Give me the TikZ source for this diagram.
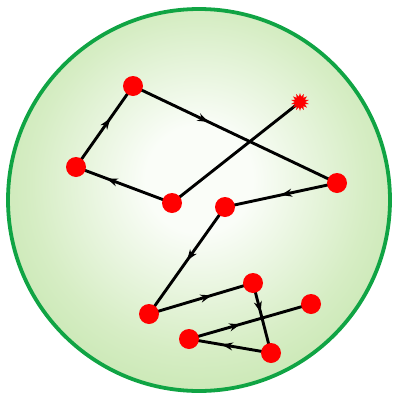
\documentclass[tikz,border=0pt]{standalone}
\usetikzlibrary{shapes.geometric,arrows.meta,decorations.markings}
\definecolor{rimgreen}{RGB}{16,164,68}
\definecolor{edgegreen}{RGB}{150,205,110}
\definecolor{outgreen}{RGB}{184,225,158}
\definecolor{midgreen}{RGB}{214,237,196}
\definecolor{centerwhite}{RGB}{250,253,248}
\definecolor{dotred}{RGB}{255,0,0}
\pgfdeclareradialshading{ballshade}{\pgfpoint{0bp}{3bp}}{%
  color(0bp)=(centerwhite); color(7bp)=(centerwhite); color(22bp)=(midgreen); color(37bp)=(outgreen); color(50bp)=(edgegreen); color(72bp)=(edgegreen)}
\pgfdeclarelayer{ballayer}
\pgfdeclarelayer{lineslayer}
\pgfsetlayers{ballayer,lineslayer,main}
\tikzset{
  dot/.style={circle,fill=dotred,inner sep=0pt,minimum size=20pt},
  burst/.style={star,star points=14,star point ratio=1.7,fill=dotred,inner sep=0pt,minimum size=18pt},
  walk/.style={line width=2.9pt,black},
  arr/.style={walk,postaction={decorate},decoration={markings,mark=at position #1 with {\arrow{Stealth[length=11pt,width=8pt,inset=3.5pt]}}}}
}
\begin{document}
\begin{tikzpicture}[x=1pt,y=-1pt]
\begin{pgfonlayer}{ballayer}
\fill[white] (0,0) rectangle (393,397);
\shade[shading=ballshade] (199,200) circle (191);
\draw[rimgreen,line width=3.8pt] (199,200) circle (191);
\end{pgfonlayer}
\useasboundingbox (0,0) rectangle (393,397);
\node[dot] (A) at (133,86) {};
\node[dot] (B) at (76,167) {};
\node[dot] (C) at (172,203) {};
\node[burst] (S) at (300,102) {};
\node[dot] (D) at (337,183) {};
\node[dot] (E) at (225,207) {};
\node[dot] (F) at (149,314) {};
\node[dot] (G) at (253,283) {};
\node[dot] (H) at (311,304) {};
\node[dot] (I) at (189,339) {};
\node[dot] (J) at (271,353) {};
\begin{pgfonlayer}{lineslayer}
\draw[walk] (C.center) -- (S.center);
\draw[arr=0.68] (C.center) -- (B.center);
\draw[arr=0.6] (B.center) -- (A.center);
\draw[arr=0.37] (A.center) -- (D.center);
\draw[arr=0.5] (D.center) -- (E.center);
\draw[arr=0.5] (E.center) -- (F.center);
\draw[arr=0.6] (F.center) -- (G.center);
\draw[arr=0.42] (G.center) -- (J.center);
\draw[arr=0.6] (J.center) -- (I.center);
\draw[arr=0.42] (I.center) -- (H.center);
\end{pgfonlayer}
\end{tikzpicture}
\end{document}
